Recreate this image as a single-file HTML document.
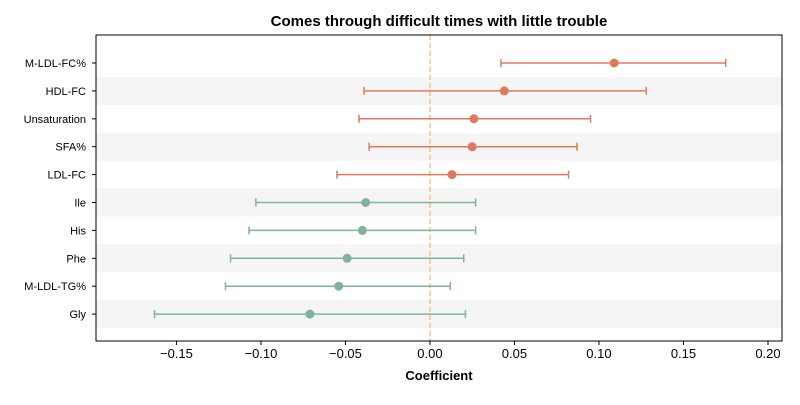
<!DOCTYPE html>
<html><head><meta charset="utf-8"><style>
body{margin:0;background:#fff;font-family:"Liberation Sans",sans-serif}
</style></head><body>
<svg id="chart" width="800" height="400" xmlns="http://www.w3.org/2000/svg"></svg>
<script>
const labels=["M-LDL-FC%","HDL-FC","Unsaturation","SFA%","LDL-FC","Ile","His","Phe","M-LDL-TG%","Gly"];
const coefs=[0.109,0.044,0.026,0.025,0.013,-0.038,-0.040,-0.049,-0.054,-0.071];
const lows=[0.042,-0.039,-0.042,-0.036,-0.055,-0.103,-0.107,-0.118,-0.121,-0.163];
const highs=[0.175,0.128,0.095,0.087,0.082,0.027,0.027,0.020,0.012,0.021];
const ticks=[-0.15,-0.10,-0.05,0.00,0.05,0.10,0.15,0.20];
const tickLabels=["−0.15","−0.10","−0.05","0.00","0.05","0.10","0.15","0.20"];
const svg=document.getElementById('chart');const NS="http://www.w3.org/2000/svg";
const L=96,R=782,T=35,B=341,xmin=-0.1976,xmax=0.2083;
const x=v=>L+(v-xmin)/(xmax-xmin)*(R-L);
const y=i=>63+i*27.9;
function mk(t,a,p){const e=document.createElementNS(NS,t);for(const k in a)e.setAttribute(k,a[k]);(p||svg).appendChild(e);return e;}
labels.forEach((l,i)=>{if(i%2==1){const b=mk('rect',{x:L,y:y(i)-14,width:R-L,height:28,fill:'#f5f5f5'});

}});
const zl=mk('line',{x1:x(0),x2:x(0),y1:T,y2:B,stroke:'#f0c47a','stroke-width':1.5,'stroke-dasharray':'5,3'});


labels.forEach((l,i)=>{
 const c=coefs[i]>0?'#e07a5f':'#81b29a';
 const g=mk('g',{});
 
 
 mk('line',{x1:x(lows[i]),x2:x(highs[i]),y1:y(i),y2:y(i),stroke:c,'stroke-width':1.5},g);
 mk('line',{x1:x(lows[i]),x2:x(lows[i]),y1:y(i)-4,y2:y(i)+4,stroke:c,'stroke-width':1.5},g);
 mk('line',{x1:x(highs[i]),x2:x(highs[i]),y1:y(i)-4,y2:y(i)+4,stroke:c,'stroke-width':1.5},g);
 mk('circle',{cx:x(coefs[i]),cy:y(i),r:4.5,fill:c},g);
 const t=mk('text',{x:L-10,y:y(i)+4,'text-anchor':'end','font-size':11,fill:'#000'});t.textContent=l;
 
 
 mk('line',{x1:L-4,x2:L,y1:y(i),y2:y(i),stroke:'#000'});
});
ticks.forEach((v,i)=>{
 mk('line',{x1:x(v),x2:x(v),y1:B,y2:B+4,stroke:'#000'});
 const t=mk('text',{x:x(v),y:B+17,'text-anchor':'middle','font-size':13,fill:'#000'});t.textContent=tickLabels[i];
 
 
});
const fr=mk('rect',{x:L,y:T,width:R-L,height:B-T,fill:'none',stroke:'#000','stroke-width':1});


const ti=mk('text',{x:(L+R)/2,y:26,'text-anchor':'middle','font-size':15,'font-weight':'bold'});ti.textContent='Comes through difficult times with little trouble';


const xt=mk('text',{x:(L+R)/2,y:380,'text-anchor':'middle','font-size':13,'font-weight':'bold'});xt.textContent='Coefficient';


</script></body></html>
